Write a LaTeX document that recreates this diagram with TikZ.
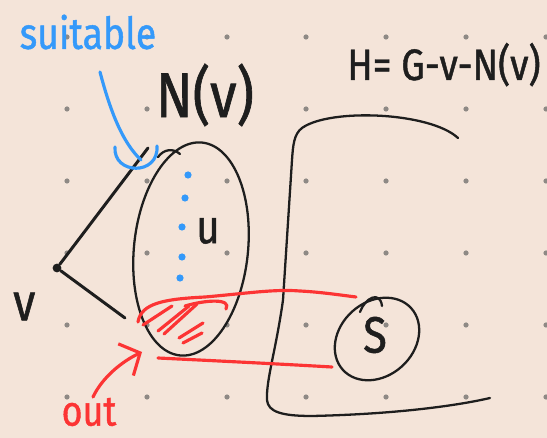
\documentclass[tikz,border=0pt]{standalone}
\usepackage{fontspec}
\setmainfont{Fira Sans}
\newfontfamily\handfont[FakeStretch=0.85,FakeBold=1]{Fira Sans}
\usepackage{xcolor}
\usetikzlibrary{arrows.meta,positioning}

\definecolor{paper}{RGB}{244,228,217}
\definecolor{griddot}{RGB}{142,137,133}
\definecolor{inkblue}{RGB}{52,153,250}
\definecolor{inkred}{RGB}{252,52,52}
\definecolor{ink}{RGB}{30,30,30}

\begin{document}
\begin{tikzpicture}[
			x=0.02cm,y=-0.02cm,
			pen/.style={draw=ink,line width=1.3pt,line cap=round,line join=round},
			bluepen/.style={draw=inkblue,line width=1.8pt,line cap=round},
			redpen/.style={draw=inkred,line width=1.8pt,line cap=round,line join=round},
			hand/.style={inner sep=0pt,text=ink},
			vertex/.style={circle,fill=ink,inner sep=0pt,minimum size=5pt},
			arrow/.style={redpen,-{Straight Barb[length=9pt,width=20pt]}}
			]
			
			\fill[paper] (0,0) rectangle (547,438);
			\useasboundingbox (0,0) rectangle (547,438);
			\foreach \gx in {67,147,227,306,386,466,546}
			\foreach \gy in {37,109,181,253,325,397}
			\fill[griddot] (\gx,\gy) circle [radius=2.6];
			
			% labels
			\node[hand,text=inkblue,font=\handfont\fontsize{25}{28}\selectfont] (suitable) at (88,32) {suitable};
			\node[hand,font=\handfont\fontsize{36}{40}\selectfont] (Nv) at (205,95) {N(v)};
			\node[hand,anchor=base west,font=\handfont\fontsize{25}{28}\selectfont] (Hdef) at (347,80) {H= G-v-N(v)};
			\node[hand,font=\handfont\fontsize{27}{30}\selectfont] (u) at (208,231) {u};
			\node[vertex] (v) at (57,268) {};
			\node[hand,font=\handfont\fontsize{30}{32}\selectfont,below left=0.42cm and 0.36cm of v] (vname) {v};
			\node[hand,font=\handfont\fontsize{29}{32}\selectfont] (S) at (375,335) {S};
			\node[hand,text=inkred,font=\handfont\fontsize{24}{26}\selectfont] (out) at (89,412) {out};
			
			% N(v) and H
			\draw[pen,rotate around={-6:(191,249)}] (191,249) ellipse [x radius=57,y radius=107];
			\draw[pen] (158,157) .. controls (164,149) and (173,148) .. (180,154);
			\draw[pen] (458,138) .. controls (430,112) and (330,108) .. (302,128)
				.. controls (294,134) and (293,145) .. (292,160) -- (283,300)
				.. controls (276,350) and (266,380) .. (267,400)
				.. controls (268,412) and (282,416) .. (312,416)
				.. controls (400,414) and (460,405) .. (490,398);
			\draw[pen,rotate around={42:(377,339)}] (377,339) ellipse [x radius=46,y radius=37];
			\draw[pen] (360,312) .. controls (365,298) and (380,290) .. (382,306);
			
			\coordinate (vtop) at (148,148);
			\coordinate (vbot) at (125,318);
			\draw[pen,line width=1.7pt] (vtop) -- (v) -- (vbot);
			
			% blue
			\foreach \by/\bx in {175/188,198/185,227/182,257/182,278/180}
			\fill[inkblue] (\bx,\by) circle [radius=3.6];
			\coordinate (tail) at (100,72);
			\coordinate (cupin) at (141,160);
			\draw[bluepen] (tail) .. controls (110,110) and (122,142) .. (cupin);
			\draw[bluepen] (115,147) .. controls (113,175) and (159,176) .. (157,146);
			
			% red
			\coordinate (Stop) at (356,297);
			\coordinate (Sbot) at (332,367);
			\draw[redpen] (138,322) .. controls (141,303) and (165,299) .. (205,297)
				.. controls (250,293) and (275,289) .. (300,291)
				.. controls (320,292) and (340,295) .. (Stop);
			\draw[redpen] (185,306) .. controls (205,300) and (232,298) .. (226,309);
			\draw[redpen] (143,325) -- (172,306);
			\draw[redpen] (158,331) -- (189,306);
			\draw[redpen] (164,334) -- (197,304);
			\draw[redpen] (179,338) -- (203,323);
			\draw[redpen] (183,343) -- (202,333);
			\draw[redpen] (158,358) .. controls (220,361) and (280,364) .. (Sbot);
			
			\coordinate (outtail) at (93,397);
			\coordinate (outtip) at (142,352);
			\draw[arrow] (outtail) .. controls (102,378) and (121,362) .. (outtip);
			
		\end{tikzpicture}
\end{document}
